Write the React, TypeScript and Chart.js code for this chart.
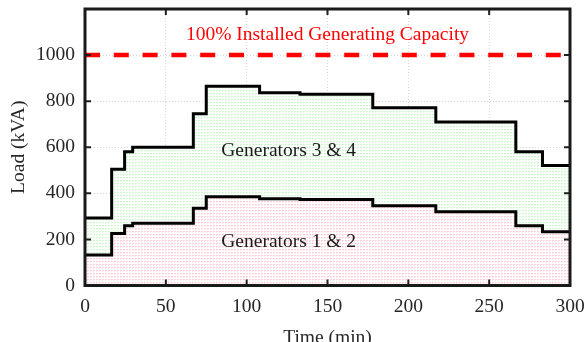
import React, { useEffect, useRef } from 'react';
import { Chart, registerables } from 'chart.js';

Chart.register(...registerables);

// ---- data ----
const times = [0, 16.5, 24.5, 29.5, 67, 75, 108, 133, 178, 217, 266.5, 283, 300];
const gen12Load = [132, 226, 259, 270, 335, 385, 377, 373, 346, 320, 259, 233, 233];
const totalLoad = [293, 505, 581, 600, 745, 865, 836, 830, 771, 710, 581, 521, 521];
const capacityLevel = 1000;
const capacityLabel = '100% Installed Generating Capacity';
const upperLabel = 'Generators 3 & 4';
const lowerLabel = 'Generators 1 & 2';
const xTitle = 'Time (min)';
const yTitle = 'Load (kVA)';
const xTickValues = [0, 50, 100, 150, 200, 250, 300];
const yTickValues = [0, 200, 400, 600, 800, 1000];

const FONT = '"Liberation Serif", "Times New Roman", serif';
const FS = 19.5;

function makePattern(ctx: CanvasRenderingContext2D, strong: string, light: string) {
  const c = document.createElement('canvas');
  c.width = 3;
  c.height = 3;
  const p = c.getContext('2d')!;
  p.fillStyle = '#ffffff';
  p.fillRect(0, 0, 3, 3);
  p.fillStyle = strong;
  p.fillRect(0, 0, 2, 1);
  p.fillStyle = light;
  p.fillRect(0, 1, 1, 1);
  return ctx.createPattern(c, 'repeat')!;
}

const framePlugin = {
  id: 'framePlugin',
  afterDatasetsDraw(chart: any) {
    const { ctx, chartArea: a, scales } = chart;
    ctx.save();
    ctx.strokeStyle = '#1f1f1f';
    ctx.lineWidth = 2;
    const tl = 6;
    xTickValues.forEach((v) => {
      const x = scales.x.getPixelForValue(v);
      ctx.beginPath();
      ctx.moveTo(x, a.bottom);
      ctx.lineTo(x, a.bottom - tl);
      ctx.moveTo(x, a.top);
      ctx.lineTo(x, a.top + tl);
      ctx.stroke();
    });
    yTickValues.forEach((v) => {
      const y = scales.y.getPixelForValue(v);
      ctx.beginPath();
      ctx.moveTo(a.left, y);
      ctx.lineTo(a.left + tl, y);
      ctx.moveTo(a.right, y);
      ctx.lineTo(a.right - tl, y);
      ctx.stroke();
    });
    ctx.lineWidth = 3;
    ctx.strokeStyle = '#1a1a1a';
    ctx.strokeRect(a.left, a.top, a.right - a.left, a.bottom - a.top);
    ctx.restore();
  },
  afterDraw(chart: any) {
    const { ctx, chartArea: a, scales } = chart;
    ctx.save();
    ctx.font = `${FS}px ${FONT}`;
    ctx.textAlign = 'center';
    ctx.textBaseline = 'alphabetic';
    ctx.fillStyle = '#ff0000';
    ctx.fillText(capacityLabel, scales.x.getPixelForValue(150), scales.y.getPixelForValue(1065));
    ctx.fillStyle = '#1a1a1a';
    ctx.fillText(upperLabel, scales.x.getPixelForValue(126), scales.y.getPixelForValue(562));
    ctx.fillText(lowerLabel, scales.x.getPixelForValue(126), scales.y.getPixelForValue(168));
    ctx.fillStyle = '#262626';
    ctx.fillText(xTitle, (a.left + a.right) / 2, 343);
    ctx.translate(24, (a.top + a.bottom) / 2);
    ctx.rotate(-Math.PI / 2);
    ctx.fillText(yTitle, 0, 0);
    ctx.restore();
  },
};

export default function App() {
  const ref = useRef<HTMLCanvasElement | null>(null);
  useEffect(() => {
    const canvas = ref.current!;
    const ctx = canvas.getContext('2d')!;
    const pink = makePattern(ctx, 'rgba(255,208,216,1)', 'rgba(255,228,233,1)');
    const green = makePattern(ctx, 'rgba(208,247,208,1)', 'rgba(228,251,228,1)');
    const lower = times.map((t, i) => ({ x: t, y: gen12Load[i] }));
    const upper = times.map((t, i) => ({ x: t, y: totalLoad[i] }));
    const cap = [
      { x: xTickValues[0], y: capacityLevel },
      { x: xTickValues[xTickValues.length - 1], y: capacityLevel },
    ];
    const chart = new Chart(ctx, {
      type: 'line',
      data: {
        datasets: [
          {
            label: lowerLabel,
            data: lower,
            stepped: true,
            borderColor: '#000000',
            borderWidth: 3,
            backgroundColor: pink,
            fill: 'origin',
            pointRadius: 0,
            borderJoinStyle: 'miter',
          },
          {
            label: upperLabel,
            data: upper,
            stepped: true,
            borderColor: '#000000',
            borderWidth: 3,
            backgroundColor: green,
            fill: '-1',
            pointRadius: 0,
            borderJoinStyle: 'miter',
          },
          {
            label: capacityLabel,
            data: cap,
            borderColor: '#ff0000',
            borderWidth: 4.5,
            borderDash: [15, 13.8],
            fill: false,
            pointRadius: 0,
          },
        ],
      },
      options: {
        animation: false,
        responsive: false,
        devicePixelRatio: 1,
        layout: { padding: { top: 9, right: 16, left: 0, bottom: 0 } },
        plugins: { legend: { display: false }, tooltip: { enabled: false } },
        scales: {
          x: {
            type: 'linear',
            min: 0,
            max: 300,
            afterBuildTicks: (s: any) => {
              s.ticks = xTickValues.map((v) => ({ value: v }));
            },
            afterFit: (s: any) => {
              s.height = 56.5;
              s.paddingLeft = 0;
              s.paddingRight = 0;
            },
            ticks: {
              font: { family: FONT, size: FS },
              color: '#262626',
              padding: 10,
              maxRotation: 0,
              callback: (v: any) => String(v),
            },
            grid: { color: 'rgba(0,0,0,0.16)', drawTicks: false, lineWidth: 1 },
            border: { display: false, dash: [1, 2] },
          },
          y: {
            type: 'linear',
            min: 0,
            max: 1200,
            afterBuildTicks: (s: any) => {
              s.ticks = yTickValues.map((v) => ({ value: v }));
            },
            afterFit: (s: any) => {
              s.width = 85;
              s.paddingTop = 0;
              s.paddingBottom = 0;
            },
            ticks: {
              font: { family: FONT, size: FS },
              color: '#262626',
              padding: 10,
              callback: (v: any) => String(v),
            },
            grid: { color: 'rgba(0,0,0,0.16)', drawTicks: false, lineWidth: 1 },
            border: { display: false, dash: [1, 2] },
          },
        },
      },
      plugins: [framePlugin],
    } as any);
    return () => chart.destroy();
  }, []);
  return (
    <div style={{ position: 'absolute', left: 0, top: 0, width: 586, height: 342, background: '#fff' }}>
      <canvas ref={ref} width={586} height={342} style={{ width: 586, height: 342, display: 'block' }} />
    </div>
  );
}
